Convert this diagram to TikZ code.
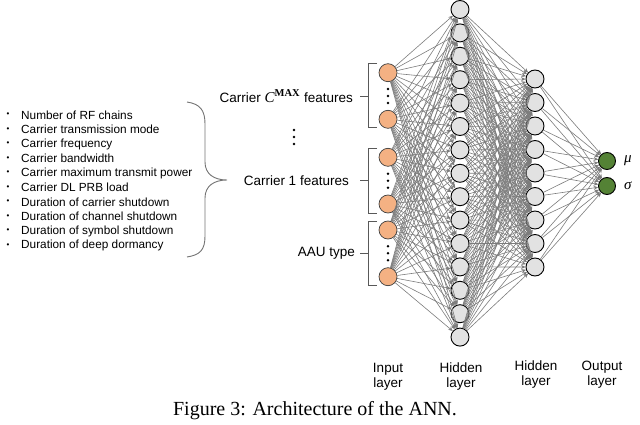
\documentclass[tikz,border=0pt]{standalone}
\usepackage{fontspec}
\setmainfont{Liberation Sans}
\newfontfamily\capfont{Liberation Serif}
\usepackage{xcolor}
\usepackage{tikz}
\usetikzlibrary{arrows.meta}
\definecolor{inputfill}{HTML}{F4B183}
\definecolor{hiddenfill}{HTML}{E2E2E2}
\definecolor{outputfill}{HTML}{548235}
\definecolor{linkgray}{HTML}{7C7C7C}
\tikzset{
	neuron/.style = {circle, draw=black, line width=0.9pt, minimum size=18pt, inner sep=0pt},
	inneuron/.style = {neuron, fill=inputfill, draw=black!75, line width=0.7pt},
	hidneuron/.style = {neuron, fill=hiddenfill},
	outneuron/.style = {neuron, fill=outputfill, minimum size=17pt},
	link/.style = {draw=linkgray, line width=0.6pt, -{Stealth[length=4.5pt,width=4pt]}},
	bigtext/.style = {font=\fontsize{13.5}{16}\selectfont, inner sep=0pt},
	symtext/.style = {font=\capfont\itshape\fontsize{15}{16}\selectfont, inner sep=0pt},
	listtext/.style = {font=\fontsize{11.8}{14}\selectfont, inner sep=0pt, anchor=west},
	bullettext/.style = {font=\fontsize{8}{10}\selectfont, inner sep=0pt},
	layertext/.style = {font=\fontsize{13.5}{15}\selectfont, align=center, inner sep=0pt},
	grouping/.style = {draw=black!65, line width=0.9pt},
	vdot/.style = {circle, fill=black, inner sep=0pt, minimum size=2.8pt}
}

\begin{document}
\begin{tikzpicture}[x=1pt, y=-1pt]
	\useasboundingbox (0,0) rectangle (640,425);
	% feature list
	\foreach \t [count=\i] in {Number of RF chains, Carrier transmission mode, Carrier frequency, Carrier bandwidth, Carrier maximum transmit power, Carrier DL PRB load, Duration of carrier shutdown, Duration of channel shutdown, Duration of symbol shutdown, Duration of deep dormancy} {
		\node [listtext] (feat\i) at (21, 115 + 14.5*\i - 14.5) {\t};
		\node [bullettext] (dot\i) at (8, 115 + 14.5*\i - 14.5) {\textbullet};
	}
	\draw [grouping, black!55] (187,102) .. controls (200,104) and (205,110) .. (205,124) -- (205,162)
		.. controls (205,174) and (214,180) .. (227,180) .. controls (214,180) and (205,186) .. (205,198)
		-- (205,236) .. controls (205,250) and (200,255) .. (187,257);
	% input layer
	\node [inneuron] (in1) at (388,72.7) {};
	\node [inneuron] (in2) at (388,119.3) {};
	\node [inneuron] (in3) at (388,157.3) {};
	\node [inneuron] (in4) at (388,204) {};
	\node [inneuron] (in5) at (388,230) {};
	\node [inneuron] (in6) at (388,276.7) {};
	\foreach \y [count=\k] in {96,180.7,253.3} {
		\node [vdot] (gdotA\k) at (388,\y-7) {};
		\node [vdot] (gdotB\k) at (388,\y) {};
		\node [vdot] (gdotC\k) at (388,\y+7) {};
	}
	% groups of inputs
	\coordinate (gtopA) at (377,63);   \coordinate (gbotA) at (377,127);  \coordinate (gmidA) at (360,96);
	\coordinate (gtopB) at (377,148);  \coordinate (gbotB) at (377,213);  \coordinate (gmidB) at (360,180.7);
	\coordinate (gtopC) at (377,221);  \coordinate (gbotC) at (377,285);  \coordinate (gmidC) at (360,253.3);
	\foreach \g in {A,B,C} {
		\draw [grouping] (gtop\g) -| ([xshift=-9pt]gbot\g) -- (gbot\g);
		\draw [grouping] (gmid\g) -- ++(8,0);
	}
	\node [bigtext, anchor=east] (carmax) at (353,96) {Carrier {\capfont\itshape\fontsize{15}{16}\selectfont C\textsuperscript{\upshape\bfseries MAX}} features};
	\node [bigtext, anchor=east] (carone) at (349,180.7) {Carrier 1 features};
	\node [bigtext, anchor=east] (aau) at (355,253.3) {AAU type};
	\node [vdot] (ldot1) at (294,130) {};
	\node [vdot] (ldot2) at (294,137) {};
	\node [vdot] (ldot3) at (294,144) {};
	% hidden layers
	\foreach \j in {1,...,15}
		\node [hidneuron] (hA\j) at (460, 9.5 + 23.4*\j - 23.4) {};
	\foreach \j in {1,...,9}
		\node [hidneuron] (hB\j) at (535, 79 + 23.5*\j - 23.5) {};
	% output layer
	\node [outneuron] (out1) at (607,161) {};
	\node [outneuron] (out2) at (607,186) {};
	\node [symtext, anchor=west] (mu) at (624,161) {μ};
	\node [symtext, anchor=west] (sigma) at (624,186) {σ};
	% links
	\foreach \i in {1,...,6}
		\foreach \j in {1,...,15}
			\draw [link] (in\i) -- (hA\j);
	\foreach \i in {1,...,15}
		\foreach \j in {1,...,9}
			\draw [link] (hA\i) -- (hB\j);
	\foreach \i in {1,...,9}
		\foreach \j in {1,2}
			\draw [link] (hB\i) -- (out\j);
	% layer names
	\node [layertext] (lin) at (388,377) {Input\\layer};
	\node [layertext] (lhA) at (461,377) {Hidden\\layer};
	\node [layertext] (lhB) at (536,375) {Hidden\\layer};
	\node [layertext] (lout) at (602,375) {Output\\layer};
	\node [inner sep=0pt, font=\capfont\fontsize{20}{22}\selectfont] (caption) at (315,411) {Figure 3: Architecture of the ANN.};
\end{tikzpicture}
\end{document}
